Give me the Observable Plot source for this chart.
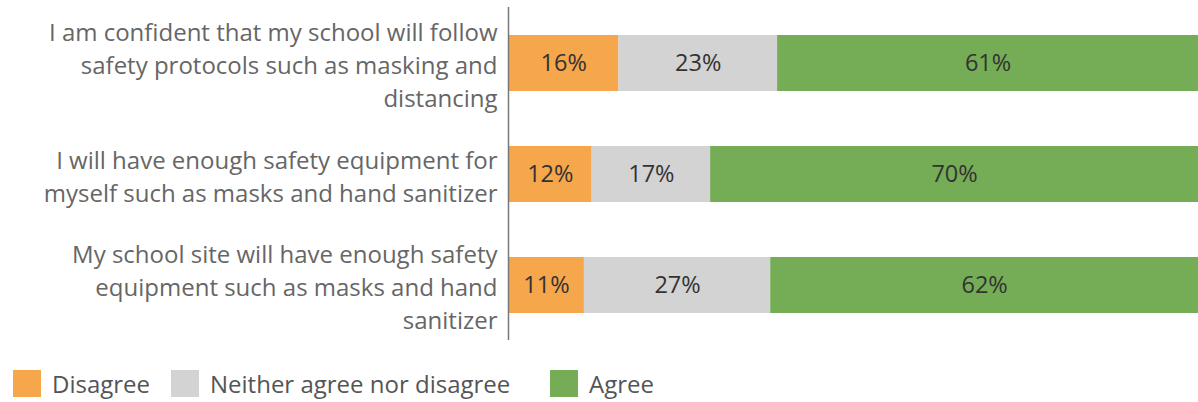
<!DOCTYPE html>
<html>
<head>
<meta charset="utf-8">
<script src="https://cdn.jsdelivr.net/npm/d3@7"></script>
<script src="https://cdn.jsdelivr.net/npm/@observablehq/plot@0.6"></script>
<style>
  html, body { margin: 0; padding: 0; background: #fff; }
  body { width: 1198px; height: 402px; overflow: hidden; font-family: "Open Sans", sans-serif; }
  #legend { position: relative; height: 40px; margin-top: 30px; }
  .item { position: absolute; top: 0; display: flex; align-items: center; height: 27px; }
  .sw { width: 28px; height: 27px; margin-right: 11px; }
  .lab { font-size: 24px; color: #555; }
</style>
</head>
<body>
<div id="chart"></div>
<div id="legend"></div>
<script>
const questions = [
  "I am confident that my school will follow safety protocols such as masking and distancing",
  "I will have enough safety equipment for myself such as masks and hand sanitizer",
  "My school site will have enough safety equipment such as masks and hand sanitizer"
];
const questionLines = [
  "I am confident that my school will follow\nsafety protocols such as masking and\ndistancing",
  "I will have enough safety equipment for\nmyself such as masks and hand sanitizer",
  "My school site will have enough safety\nequipment such as masks and hand\nsanitizer"
];
const responses = ["Disagree", "Neither agree nor disagree", "Agree"];
const colors = ["#f6a64b", "#d3d3d3", "#75ad56"];
const disagree = [16, 12, 11];
const neither = [23, 17, 27];
const agree = [61, 70, 62];
const legendLeft = [13, 171, 550];

const series = [disagree, neither, agree];
const data = [];
questions.forEach((q, i) => {
  responses.forEach((r, j) => {
    data.push({q, resp: r, value: series[j][i]});
  });
});
const wrap = new Map(questions.map((q, i) => [q, questionLines[i]]));

const chart = Plot.plot({
  width: 1198,
  height: 340,
  marginLeft: 508,
  marginRight: 0,
  marginTop: 7,
  marginBottom: 0,
  style: {fontFamily: "Open Sans, sans-serif", background: "#fff"},
  x: {domain: [0, 1], axis: null},
  y: {domain: questions, paddingInner: 0.5, paddingOuter: 0.25, label: null},
  color: {domain: responses, range: colors},
  marks: [
    Plot.barX(data, Plot.stackX({x: "value", y: "q", fill: "resp", order: responses, offset: "normalize"})),
    Plot.text(data, Plot.stackX({x: "value", y: "q", z: "resp", order: responses, offset: "normalize",
      text: d => d.value + "%", fill: "#333", fontSize: 23.5})),
    Plot.axisY({tickSize: 0, tickPadding: 11, fontSize: 24, fill: "#666",
      tickFormat: d => wrap.get(d), lineHeight: 1.375, label: null}),
    Plot.ruleX([0], {stroke: "#777", strokeWidth: 1.5})
  ]
});
document.getElementById("chart").appendChild(chart);

const leg = document.getElementById("legend");
responses.forEach((r, i) => {
  const it = document.createElement("div");
  it.className = "item";
  it.style.left = legendLeft[i] + "px";
  it.innerHTML = `<div class="sw" style="background:${colors[i]}"></div><span class="lab">${r}</span>`;
  leg.appendChild(it);
});
</script>
</body>
</html>
